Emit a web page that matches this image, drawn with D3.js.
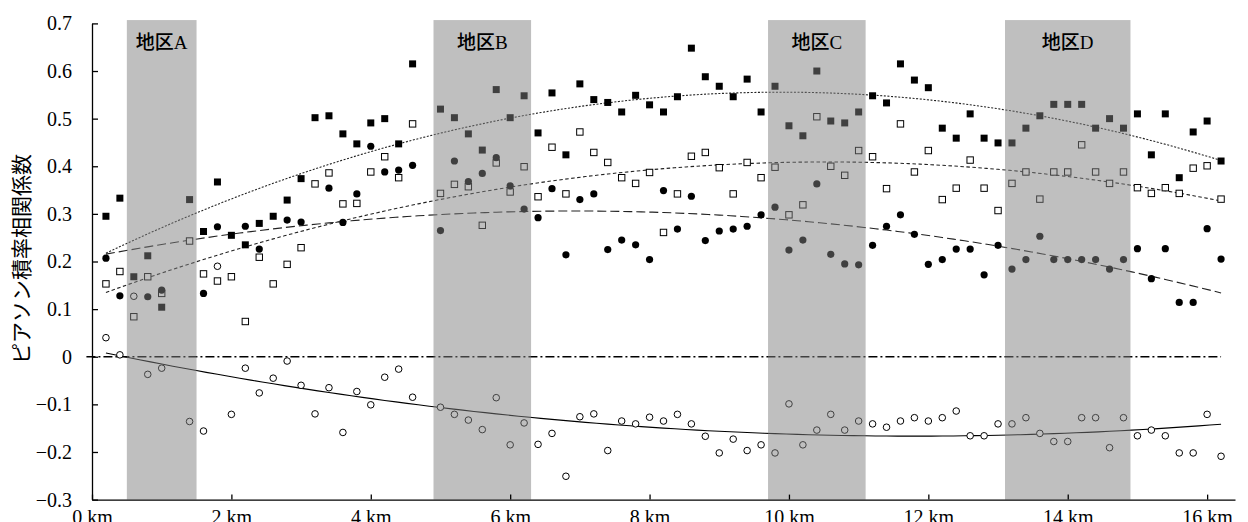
<!DOCTYPE html>
<html>
<head>
<meta charset="utf-8">
<script src="https://cdn.jsdelivr.net/npm/d3@7"></script>
<style>
    body { margin: 0; background: #fff; }
    svg { display: block; }
    .domain, .tick line { stroke: #000; stroke-width: 1.3; }
</style>
</head>
<body>
<div id="chart"></div>
<script>
"use strict";

// distance along the route (km), every 0.2 km
var distances = d3.range(1, 82).map(function(k) { return +(k * 0.2).toFixed(1); });

// null = no value at this position
var filledSquares = [0.295, 0.333, 0.168, 0.212, 0.104, null, 0.330, 0.263, 0.367, 0.255,
    0.235, 0.280, 0.295, 0.329, 0.374, 0.502, 0.506, 0.468, 0.447, 0.491,
    0.500, 0.447, 0.615, null, 0.520, 0.502, 0.468, 0.434, 0.561, 0.502,
    0.548, 0.470, 0.554, 0.424, 0.573, 0.540, 0.534, 0.514, 0.549, 0.529,
    0.514, 0.546, 0.648, 0.588, 0.568, 0.546, 0.583, 0.514, 0.568, 0.485,
    0.464, 0.600, 0.495, 0.491, 0.514, 0.548, 0.533, 0.615, 0.581, 0.565,
    0.480, 0.459, 0.510, 0.459, 0.449, 0.449, 0.480, 0.506, 0.530, 0.530,
    0.530, 0.480, 0.500, 0.480, 0.510, 0.424, 0.510, 0.376, 0.472, 0.495, 0.411];

var openSquares = [0.153, 0.179, 0.084, 0.168, 0.133, null, 0.243, 0.174, 0.159, 0.168,
    0.074, 0.209, 0.153, 0.194, 0.229, 0.363, 0.386, 0.321, 0.322, 0.388,
    0.420, 0.376, 0.489, null, 0.343, 0.362, 0.357, 0.276, 0.407, 0.346,
    0.399, 0.336, 0.440, 0.342, 0.472, 0.429, 0.408, 0.376, 0.364, 0.387,
    0.261, 0.342, 0.421, 0.429, 0.397, 0.342, 0.408, 0.376, 0.398, 0.298,
    0.319, 0.504, 0.400, 0.381, 0.433, 0.420, 0.353, 0.489, 0.388, 0.433,
    0.330, 0.354, 0.413, 0.354, 0.307, 0.364, 0.388, 0.331, 0.388, 0.388,
    0.445, 0.388, 0.364, 0.388, 0.355, 0.343, 0.355, 0.343, 0.396, 0.401, 0.331];

var filledCircles = [0.207, 0.128, null, 0.126, 0.140, null, null, 0.133, 0.273, null,
    0.274, 0.226, null, 0.287, 0.283, null, 0.354, 0.282, 0.342, 0.442,
    0.388, 0.392, 0.402, null, 0.265, 0.411, 0.368, 0.385, 0.418, 0.359,
    0.310, 0.292, 0.353, 0.214, 0.330, 0.342, 0.225, 0.245, 0.235, 0.204,
    0.349, 0.268, 0.337, 0.244, 0.264, 0.268, 0.274, 0.298, 0.314, 0.224,
    0.245, 0.363, 0.215, 0.195, 0.193, 0.234, 0.274, 0.298, 0.257, 0.194,
    0.204, 0.226, 0.226, 0.172, 0.234, 0.184, 0.204, 0.253, 0.204, 0.204,
    0.204, 0.204, 0.184, 0.204, 0.227, 0.164, 0.227, 0.114, 0.114, 0.269, 0.205];

var openCircles = [0.040, 0.004, 0.127, -0.037, -0.024, null, -0.136, -0.156, 0.190, -0.121,
    -0.024, -0.076, -0.045, -0.009, -0.060, -0.120, -0.065, -0.159, -0.073, -0.101,
    -0.043, -0.026, -0.085, null, -0.106, -0.121, -0.133, -0.153, -0.086, -0.185,
    -0.139, -0.184, -0.161, -0.251, -0.126, -0.120, -0.197, -0.135, -0.141, -0.127,
    -0.135, -0.121, -0.141, -0.167, -0.202, -0.173, -0.197, -0.185, -0.202, -0.099,
    -0.185, -0.154, -0.121, -0.154, -0.135, -0.141, -0.148, -0.135, -0.128, -0.135,
    -0.128, -0.114, -0.166, -0.166, -0.141, -0.141, -0.128, -0.161, -0.178, -0.178,
    -0.128, -0.128, -0.191, -0.128, -0.166, -0.154, -0.166, -0.202, -0.202, -0.121, -0.209];

var regionNames = ["地区A", "地区B", "地区C", "地区D"];
var regionStart = [0.5, 4.9, 9.7, 13.1];
var regionEnd = [1.5, 6.3, 11.1, 14.9];

var xTicks = [0, 2, 4, 6, 8, 10, 12, 14, 16];
var yTicks = [-0.3, -0.2, -0.1, 0, 0.1, 0.2, 0.3, 0.4, 0.5, 0.6, 0.7];

var width = 1248, height = 522;
var serif = "'Liberation Serif', 'Times New Roman', Times, serif";

var x = d3.scaleLinear().domain([0, 16.4]).range([92, 1235]);
var y = d3.scaleLinear().domain([-0.3, 0.7]).range([499.6, 23.4]);

var svg = d3.select("#chart").append("svg")
    .attr("width", width)
    .attr("height", height);

// second order least squares trend line
function quadFit(xs, ys) {
    var pts = [];
    xs.forEach(function(v, i) { if (ys[i] !== null) pts.push([v, ys[i]]); });
    var s = [0, 0, 0, 0, 0], t = [0, 0, 0];
    pts.forEach(function(p) {
        for (var j = 0; j < 5; j++) s[j] += Math.pow(p[0], j);
        for (var j2 = 0; j2 < 3; j2++) t[j2] += p[1] * Math.pow(p[0], j2);
    });
    var m = [[s[0], s[1], s[2]], [s[1], s[2], s[3]], [s[2], s[3], s[4]]];
    function det(a) {
        return a[0][0] * (a[1][1] * a[2][2] - a[1][2] * a[2][1])
             - a[0][1] * (a[1][0] * a[2][2] - a[1][2] * a[2][0])
             + a[0][2] * (a[1][0] * a[2][1] - a[1][1] * a[2][0]);
    }
    var d = det(m);
    var c = [0, 1, 2].map(function(col) {
        var mm = m.map(function(row, r) { return row.map(function(v, cc) { return cc === col ? t[r] : v; }); });
        return det(mm) / d;
    });
    return function(v) { return c[0] + c[1] * v + c[2] * v * v; };
}

var series = [
    { values: filledSquares, shape: "square", fill: "#000", dash: "2,1.6", lineColor: "#222" },
    { values: openSquares, shape: "square", fill: "#fff", dash: "3.5,2.5", lineColor: "#222" },
    { values: filledCircles, shape: "circle", fill: "#000", dash: "9,4", lineColor: "#222" },
    { values: openCircles, shape: "circle", fill: "#fff", dash: null, lineColor: "#000" }
];

// zero reference line
svg.append("line")
    .attr("x1", x(-0.08)).attr("x2", x(16.2))
    .attr("y1", y(0)).attr("y2", y(0))
    .attr("stroke", "#000")
    .attr("stroke-width", 1.6)
    .attr("stroke-dasharray", "9,3,2,3");

// trend lines
var line = d3.line().x(function(d) { return x(d[0]); }).y(function(d) { return y(d[1]); });
var trendX = d3.range(0, 101).map(function(i) { return 0.2 + i * 0.16; });

series.forEach(function(s) {
    var f = quadFit(distances, s.values);
    svg.append("path")
        .datum(trendX.map(function(v) { return [v, f(v)]; }))
        .attr("d", line)
        .attr("fill", "none")
        .attr("stroke", s.lineColor)
        .attr("stroke-width", 1.1)
        .attr("stroke-dasharray", s.dash);
});

// points
series.forEach(function(s) {
    var pts = distances.map(function(v, i) { return { km: v, val: s.values[i] }; })
        .filter(function(d) { return d.val !== null; });
    var g = svg.append("g");
    if (s.shape === "square") {
        var size = s.fill === "#000" ? 7 : 6.4;
        g.selectAll("rect").data(pts).enter().append("rect")
            .attr("x", function(d) { return x(d.km) - size / 2; })
            .attr("y", function(d) { return y(d.val) - size / 2; })
            .attr("width", size).attr("height", size)
            .attr("fill", s.fill)
            .attr("stroke", "#000")
            .attr("stroke-width", s.fill === "#000" ? 0 : 1);
    } else {
        g.selectAll("circle").data(pts).enter().append("circle")
            .attr("cx", function(d) { return x(d.km); })
            .attr("cy", function(d) { return y(d.val); })
            .attr("r", s.fill === "#000" ? 3.6 : 3.3)
            .attr("fill", s.fill)
            .attr("stroke", "#000")
            .attr("stroke-width", s.fill === "#000" ? 0 : 1);
    }
});

// shaded districts, drawn over the marks
var regions = regionNames.map(function(n, i) { return { name: n, a: regionStart[i], b: regionEnd[i] }; });
svg.selectAll("rect.region").data(regions).enter().append("rect")
    .attr("class", "region")
    .attr("x", function(d) { return x(d.a); })
    .attr("width", function(d) { return x(d.b) - x(d.a); })
    .attr("y", y(0.707))
    .attr("height", y(-0.3) - y(0.707))
    .attr("fill", "#808080")
    .attr("fill-opacity", 0.5);

svg.selectAll("text.region").data(regions).enter().append("text")
    .attr("class", "region")
    .attr("x", function(d) { return (x(d.a) + x(d.b)) / 2; })
    .attr("y", y(0.66))
    .attr("dy", "0.35em")
    .attr("text-anchor", "middle")
    .attr("font-family", "'Liberation Serif', 'Noto Sans CJK JP', serif")
    .attr("font-size", 19)
    .attr("font-weight", 500)
    .text(function(d) { return d.name; });

// axes
var xAxis = svg.append("g")
    .attr("transform", "translate(0," + y(-0.3) + ")")
    .call(d3.axisBottom(x).tickValues(xTicks).tickSize(-5).tickSizeOuter(0).tickPadding(10)
        .tickFormat(function(d) { return d + " km"; }));

var yAxis = svg.append("g")
    .attr("transform", "translate(" + x(0) + ",0)")
    .call(d3.axisLeft(y).tickValues(yTicks).tickSize(-6).tickSizeOuter(0).tickPadding(20)
        .tickFormat(function(d) { return d === 0 ? "0" : d3.format(".1f")(d); }));

[xAxis, yAxis].forEach(function(a) {
    a.attr("font-family", serif).attr("font-size", 20);
    a.selectAll("text").attr("fill", "#000");
});

svg.append("text")
    .attr("transform", "translate(22,259) rotate(-90)")
    .attr("text-anchor", "middle")
    .attr("dy", "0.35em")
    .attr("font-family", "'Noto Sans CJK JP', sans-serif")
    .attr("font-size", 21)
    .text("ピアソン積率相関係数");
</script>
</body>
</html>
